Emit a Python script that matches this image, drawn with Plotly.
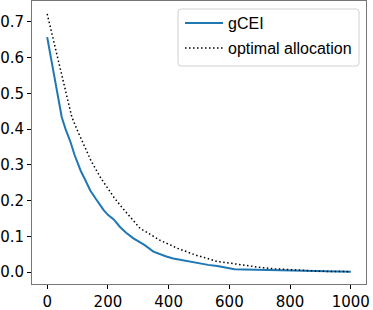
import plotly.graph_objects as go

gcei_x = [0, 10, 20, 30, 40, 48, 60, 77, 90, 110, 125, 142, 160, 186, 200, 219, 240, 260, 284,
          300, 320, 350, 370, 390, 415, 440, 460, 480, 500, 530, 560, 590, 617, 650, 700, 750,
          800, 850, 900, 950, 1000]
gcei_y = [0.657, 0.61, 0.565, 0.52, 0.47, 0.433, 0.401, 0.363, 0.328, 0.284, 0.258, 0.228, 0.205,
          0.173, 0.160, 0.147, 0.126, 0.110, 0.094, 0.086, 0.076, 0.057, 0.050, 0.044, 0.038,
          0.034, 0.031, 0.026, 0.023, 0.020, 0.017, 0.013, 0.008, 0.007, 0.006, 0.005, 0.003,
          0.002, 0.0015, 0.001, 0.0005]

opt_x = [0, 15, 29, 50, 65, 81, 100, 120, 145, 175, 200, 219, 240, 273, 306, 340, 371, 400, 430,
         459, 490, 520, 557, 600, 633, 666, 700, 750, 800, 850, 900, 950, 1000]
opt_y = [0.722, 0.67, 0.615, 0.542, 0.490, 0.434, 0.395, 0.358, 0.31, 0.265, 0.232, 0.21, 0.187,
         0.154, 0.122, 0.105, 0.089, 0.078, 0.066, 0.057, 0.047, 0.040, 0.030, 0.025, 0.021,
         0.017, 0.013, 0.009, 0.006, 0.003, 0.002, 0.0015, 0.001]

x_ticks = [0, 200, 400, 600, 800, 1000]
y_ticks = [0.0, 0.1, 0.2, 0.3, 0.4, 0.5, 0.6, 0.7]

fig = go.Figure()
fig.add_trace(go.Scatter(x=gcei_x, y=gcei_y, mode="lines", name="gCEI",
                         line=dict(color="#1f77b4", width=2), legend="legend"))
fig.add_trace(go.Scatter(x=opt_x, y=opt_y, mode="lines", name="optimal allocation",
                         line=dict(color="black", width=1.5, dash="1.5px,2.5px"), legend="legend2"))

W, H = 373, 310
ml, mr, mt, mb = 32, 7, 1, 26
pw, ph = W - ml - mr, H - mt - mb

def px_x(p):
    return (p - ml) / pw

def px_y(p):
    return 1 - (p - mt) / ph

tick_font = dict(family="DejaVu Sans", size=15, color="black")
leg_font = dict(family="Liberation Sans, Arial", size=16, color="black")

fig.update_layout(
    width=W, height=H,
    margin=dict(l=ml, r=mr, t=mt, b=mb, autoexpand=False),
    plot_bgcolor="white", paper_bgcolor="white",
    xaxis=dict(range=[-50, 1050], tickvals=x_ticks, ticks="outside", ticklen=4, tickwidth=1,
               tickcolor="black", showgrid=False, zeroline=False, showline=True, mirror=True,
               linecolor="#777", linewidth=1, tickfont=tick_font, automargin=False),
    yaxis=dict(range=[-0.0335, 0.758], tickvals=y_ticks, tickformat=".1f", ticks="outside",
               ticklen=4, tickwidth=1, tickcolor="black", showgrid=False, zeroline=False,
               showline=True, mirror=True, linecolor="#777", linewidth=1, tickfont=tick_font,
               automargin=False),
    legend=dict(x=px_x(180), y=px_y(6), xanchor="left", yanchor="top", font=leg_font,
                bgcolor="rgba(0,0,0,0)", borderwidth=0, itemwidth=38),
    legend2=dict(x=px_x(180), y=px_y(31), xanchor="left", yanchor="top", font=leg_font,
                 bgcolor="rgba(0,0,0,0)", borderwidth=0, itemwidth=38),
    showlegend=True,
)

# legend frame with rounded corners (paper coordinates)
L, R, T, B, r = 178, 359, 9, 66, 3
rx, ry = r / pw, r / ph
x0, x1, yt, yb = px_x(L), px_x(R), px_y(T), px_y(B)
path = (f"M {x0+rx},{yt} L {x1-rx},{yt} Q {x1},{yt} {x1},{yt-ry} "
        f"L {x1},{yb+ry} Q {x1},{yb} {x1-rx},{yb} L {x0+rx},{yb} Q {x0},{yb} {x0},{yb+ry} "
        f"L {x0},{yt-ry} Q {x0},{yt} {x0+rx},{yt} Z")
fig.add_shape(type="path", xref="paper", yref="paper", path=path,
              line=dict(color="#d0d0d0", width=1), fillcolor="rgba(255,255,255,0.8)", layer="above")

fig.write_html("out.html", config={"displayModeBar": False},
               post_script="document.body.style.margin='0';document.body.style.padding='0';")
